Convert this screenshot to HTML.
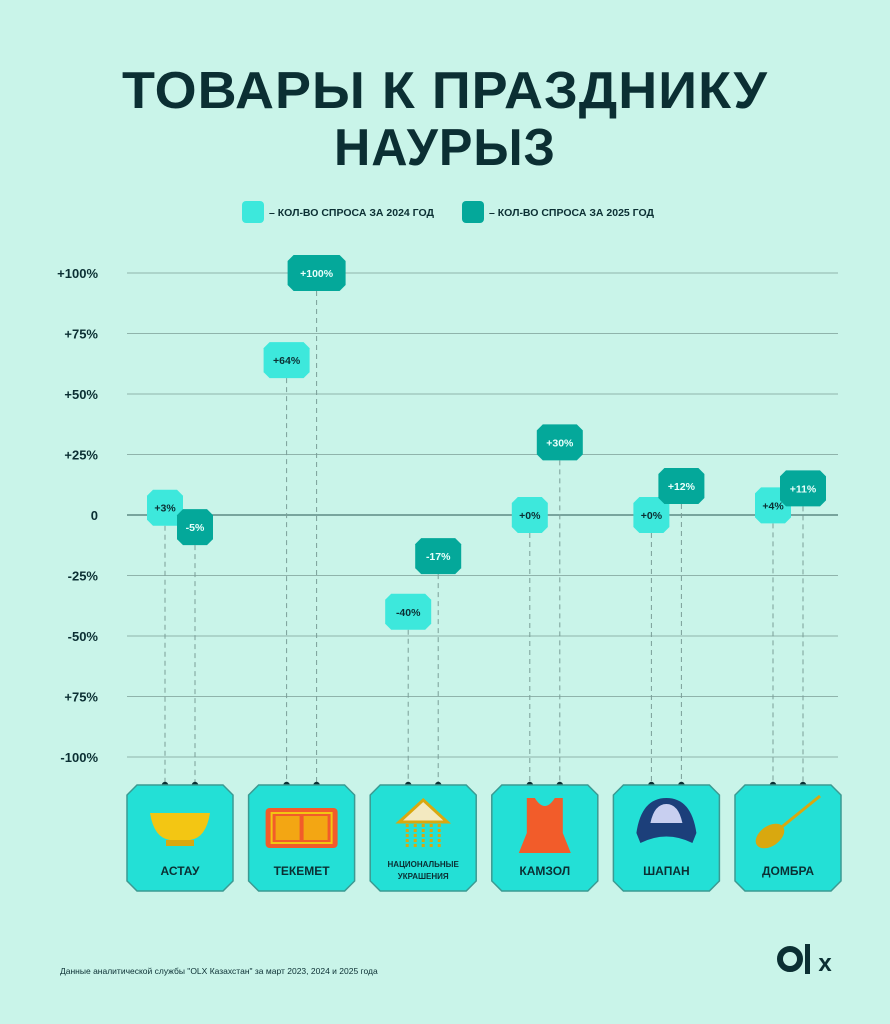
<!DOCTYPE html>
<html><head><meta charset="utf-8">
<style>
body{margin:0;width:890px;height:1024px;background:#c9f4e9;overflow:hidden;font-family:"Liberation Sans","DejaVu Sans",sans-serif;}
svg{position:absolute;left:0;top:0}
</style></head>
<body>
<svg id="c" width="890" height="1024">
<text x="445" y="108" text-anchor="middle" font-size="52" font-weight="bold" fill="#0b2f33" letter-spacing="1" textLength="646" lengthAdjust="spacingAndGlyphs">ТОВАРЫ К ПРАЗДНИКУ</text>
<text x="445" y="165" text-anchor="middle" font-size="52" font-weight="bold" fill="#0b2f33" letter-spacing="1" textLength="222" lengthAdjust="spacingAndGlyphs">НАУРЫЗ</text>
<g>
<rect x="242" y="201" width="22" height="22" rx="4" fill="#3de8dc"/>
<text x="269" y="216" font-size="10.5" font-weight="bold" fill="#0b2f33">– КОЛ-ВО СПРОСА ЗА 2024 ГОД</text>
<rect x="462" y="201" width="22" height="22" rx="4" fill="#04a89a"/>
<text x="489" y="216" font-size="10.5" font-weight="bold" fill="#0b2f33">– КОЛ-ВО СПРОСА ЗА 2025 ГОД</text>
</g>
<g id="grid"></g><g id="marks"></g><g id="cards"></g>
<text x="60" y="974" font-size="8.5" fill="#0b2f33">Данные аналитической службы "OLX Казахстан" за март 2023, 2024 и 2025 года</text>
<g>
<circle cx="790" cy="959" r="10" fill="none" stroke="#0b2f33" stroke-width="6"/>
<rect x="805" y="944" width="5" height="30" fill="#0b2f33"/>
<text x="825" y="971" text-anchor="middle" font-size="24" font-weight="bold" fill="#0b2f33">x</text>
</g>
</svg>
<script>
const ticks=[100,75,50,25,0,-25,-50,-75,-100];
const tickLabels=["+100%","+75%","+50%","+25%","0","-25%","-50%","+75%","-100%"];
const categories=["АСТАУ","ТЕКЕМЕТ","НАЦИОНАЛЬНЫЕ|УКРАШЕНИЯ","КАМЗОЛ","ШАПАН","ДОМБРА"];
const values2024=[3,64,-40,0,0,4];
const values2025=[-5,100,-17,30,12,11];
const labels2024=["+3%","+64%","-40%","+0%","+0%","+4%"];
const labels2025=["-5%","+100%","-17%","+30%","+12%","+11%"];
const NS="http://www.w3.org/2000/svg";
function y(v){return 515-v*2.42;}
function x(i){return 180+i*121.6;}
function mk(tag,attrs,parent){const e=document.createElementNS(NS,tag);for(const k in attrs)e.setAttribute(k,attrs[k]);parent.appendChild(e);return e;}
const grid=document.getElementById('grid'),marks=document.getElementById('marks'),cards=document.getElementById('cards');
ticks.forEach((t,i)=>{
 const l=mk('line',{x1:127,x2:838,y1:y(t),y2:y(t),stroke:t===0?'#5e8a84':'#8fb3ab','stroke-width':t===0?1.6:1},grid);
 
 
 const tx=mk('text',{x:98,y:y(t)+5,'text-anchor':'end','font-size':13,'font-weight':'bold',fill:'#0b2f33'},grid);
 tx.textContent=tickLabels[i];
 
 
});
function oct(cx,cy,w,h,c){const l=cx-w/2,r=cx+w/2,t=cy-h/2,b=cy+h/2;return `${l+c},${t} ${r-c},${t} ${r},${t+c} ${r},${b-c} ${r-c},${b} ${l+c},${b} ${l},${b-c} ${l},${t+c}`;}
function bar(px,v,lab,col,tcol,nm){
 const g=mk('g',{},marks);
 
 
 mk('line',{x1:px,x2:px,y1:y(v),y2:785,stroke:'#7a9e98','stroke-dasharray':'5,4','stroke-width':1},g);
 mk('circle',{cx:px,cy:785,r:3.2,fill:'#0b2f33'},g);
 const w=lab.length>=5?58:(lab.length===4?46:36);
 mk('polygon',{points:oct(px,y(v),w,36,6),fill:col},g);
 const t=mk('text',{x:px,y:y(v)+4,'text-anchor':'middle','font-size':10.5,'font-weight':'bold',fill:tcol},g);
 t.textContent=lab;
}
categories.forEach((c,i)=>{
 const x1=x(i)-15,x2=x(i)+15;
 bar(x1,values2024[i],labels2024[i],'#3de8dc','#0b2f33','point-2024');
 bar(x2,values2025[i],labels2025[i],'#04a89a','#e8fffb','point-2025');
 const g=mk('g',{},cards);
 
 
 mk('polygon',{points:oct(x(i),838,106,106,10),fill:'#23e0d6',stroke:'#3b9a92','stroke-width':1.5},g);
 const parts=c.split('|');
 if(parts.length>1){parts.forEach((p,k)=>{const t=mk('text',{x:x(i),y:867+k*12,'text-anchor':'middle','font-size':8,'font-weight':'bold',fill:'#0b2f33'},g);t.textContent=p;});}
 else{const t=mk('text',{x:x(i),y:875,'text-anchor':'middle','font-size':12,'font-weight':'bold',fill:'#0b2f33'},g);t.textContent=c;}
 const cx=x(i),cy=828;
 if(i===0){mk('path',{d:`M${cx-30} ${cy-15} H${cx+30} Q${cx+26} ${cy+10} ${cx+10} ${cy+12} H${cx-10} Q${cx-26} ${cy+10} ${cx-30} ${cy-15}Z`,fill:'#f3c613'},g);mk('rect',{x:cx-14,y:cy+12,width:28,height:6,fill:'#d9a80f'},g);}
 if(i===1){mk('rect',{x:cx-36,y:cy-20,width:72,height:40,rx:4,fill:'#f25c2a'},g);mk('rect',{x:cx-30,y:cy-15,width:60,height:30,fill:'none',stroke:'#f3c613','stroke-width':2},g);mk('rect',{x:cx-26,y:cy-12,width:24,height:24,fill:'#f3a613'},g);mk('rect',{x:cx+2,y:cy-12,width:24,height:24,fill:'#f3a613'},g);}
 if(i===2){mk('polygon',{points:`${cx},${cy-28} ${cx+24},${cy-6} ${cx-24},${cy-6}`,fill:'#f3e9c0',stroke:'#d9a80f','stroke-width':3},g);for(let k=-2;k<=2;k++)mk('line',{x1:cx+k*8,x2:cx+k*8,y1:cy-4,y2:cy+20,stroke:'#d9a80f','stroke-width':3,'stroke-dasharray':'3,2'},g);}
 if(i===3){mk('path',{d:`M${cx-18} ${cy-30} H${cx-10} Q${cx} ${cy-14} ${cx+10} ${cy-30} H${cx+18} V${cy+5} L${cx+26} ${cy+25} H${cx-26} L${cx-18} ${cy+5}Z`,fill:'#f25c2a'},g);}
 if(i===4){mk('path',{d:`M${cx-30} ${cy+5} Q${cx-25} ${cy-30} ${cx} ${cy-30} Q${cx+25} ${cy-30} ${cx+30} ${cy+5} L${cx+26} ${cy+15} Q${cx} ${cy+2} ${cx-26} ${cy+15}Z`,fill:'#1c3f7a'},g);mk('path',{d:`M${cx-16} ${cy-5} Q${cx-12} ${cy-24} ${cx} ${cy-24} Q${cx+12} ${cy-24} ${cx+16} ${cy-5}Z`,fill:'#c8cff0'},g);}
 if(i===5){mk('line',{x1:cx-10,y1:cy+2,x2:cx+32,y2:cy-32,stroke:'#d9a80f','stroke-width':3},g);mk('ellipse',{cx:cx-18,cy:cy+8,rx:16,ry:10,transform:`rotate(-35 ${cx-18} ${cy+8})`,fill:'#d9a80f'},g);}
});
</script>
</body></html>
